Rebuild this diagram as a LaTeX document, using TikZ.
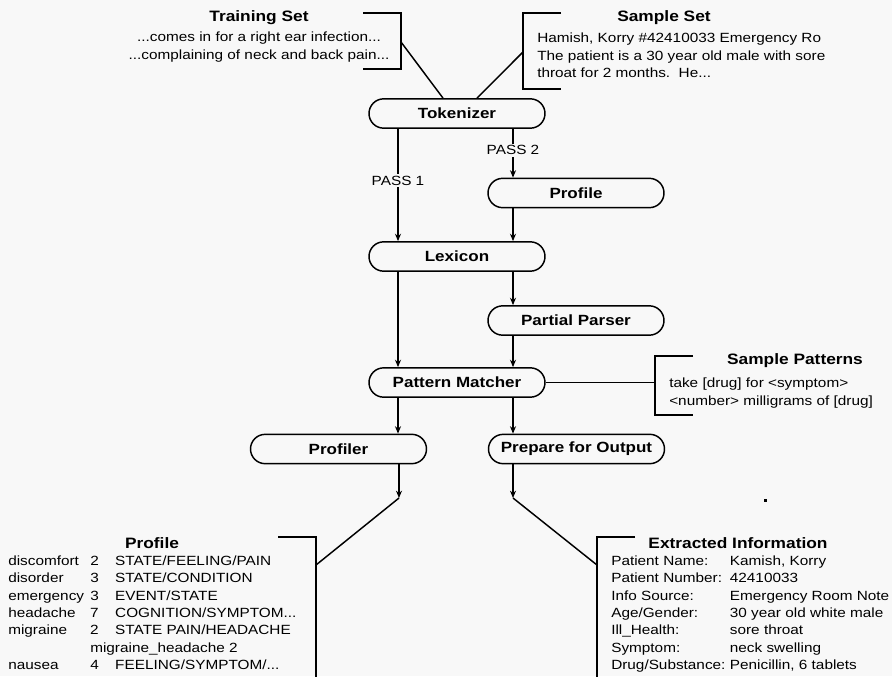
\documentclass[tikz,border=0pt]{standalone}
\usepackage{fontspec}
\setmainfont{Liberation Sans}[FakeStretch=1.15]
\usetikzlibrary{arrows.meta}

\definecolor{pagebg}{RGB}{248,248,248}

\tikzset{
  stage/.style={draw, line width=1.1pt, rounded corners=11pt, minimum width=132pt,
    minimum height=22pt, inner sep=0pt, font=\fontsize{11.1}{13}\selectfont\bfseries},
  flow/.style={line width=1.1pt, -{Stealth[length=5.5pt,width=4.5pt]}},
  brack/.style={line width=1.1pt},
  boxtitle/.style={inner sep=0pt, font=\fontsize{11.3}{13}\selectfont\bfseries},
  boxtext/.style={inner sep=0pt, align=left, font=\fontsize{10}{13.1}\selectfont},
  passlbl/.style={fill=pagebg, inner sep=1.5pt, font=\fontsize{10}{12}\selectfont}
}

\begin{document}
\begin{tikzpicture}[x=0.75pt,y=0.75pt,yscale=-1,xscale=1]
\fill[pagebg] (0,0) rectangle (892,676);
\useasboundingbox (0,0) rectangle (892,676);

%lanes for the two passes
\coordinate (laneL) at (398,0);
\coordinate (laneR) at (513,0);

%Shape: stages
\node[stage] (tok) at (457,113.5) {Tokenizer};
\node[stage] (prof) at (576,193) {Profile};
\node[stage] (lex) at (457,256.5) {Lexicon};
\node[stage] (parser) at (576,320.5) {Partial Parser};
\node[stage] (match) at (457,382.5) {Pattern Matcher};
\node[stage] (profiler) at (338.5,449) {Profiler};
\node[stage] (prep) at (576.5,449) {Prepare for Output};

%Shape: brackets
\draw[brack] (363,13) -- (401,13) -- (401,69) -- (363,69);
\coordinate (trainbr) at (401,42);
\draw[brack] (561,13) -- (523,13) -- (523,89) -- (561,89);
\coordinate (samplebr) at (523,52);
\draw[brack] (693,356) -- (655,356) -- (655,415) -- (693,415);
\coordinate (patbr) at (655,382.5);
\draw[brack] (278,537) -- (316,537) -- (316,680);
\coordinate (profbr) at (316,565);
\draw[brack] (635,537) -- (597,537) -- (597,680);
\coordinate (extbr) at (597,565);

%free ends below the last stages
\coordinate (profend) at (399,498);
\coordinate (prepend) at (513,498);

%Straight Lines
\draw[brack] (trainbr) -- ([xshift=-10.5pt]tok.north);
\draw[brack] (samplebr) -- ([xshift=15pt]tok.north);
\draw[flow] (tok.south -| laneL) -- node[passlbl, pos=0.46] {PASS 1} (lex.north -| laneL);
\draw[flow] (tok.south -| laneR) -- node[passlbl, pos=0.44] {PASS 2} (prof.north -| laneR);
\draw[flow] (prof.south -| laneR) -- (lex.north -| laneR);
\draw[flow] (lex.south -| laneL) -- (match.north -| laneL);
\draw[flow] (lex.south -| laneR) -- (parser.north -| laneR);
\draw[flow] (parser.south -| laneR) -- (match.north -| laneR);
\draw[brack] (match.east) -- (patbr);
\draw[flow] (match.south -| laneL) -- (profiler.north -| laneL);
\draw[flow] (match.south -| laneR) -- (prep.north -| laneR);
\draw[flow] (profiler.south -| profend) -- (profend);
\draw[flow] (prep.south -| prepend) -- (prepend);
\draw[brack] (profend) -- (profbr);
\draw[brack] (prepend) -- (extbr);

%speck
\fill (764,499) rectangle (767,501.5);

% Text Node
\node[boxtitle] (traintitle) at (259,18) {Training Set};
% Text Node
\node[boxtext, align=center] (traintext) at (259,47)
  {...comes in for a right ear infection...\\...complaining of neck and back pain...};
% Text Node
\node[boxtitle] (sampletitle) at (664,18) {Sample Set};
% Text Node
\node[boxtext, anchor=west] (sampletext) at (537,55.5)
  {Hamish, Korry \#42410033 Emergency Ro\\The patient is a 30 year old male with sore\\throat for 2 months.\ \ He...};
% Text Node
\node[boxtitle] (pattitle) at (795,361) {Sample Patterns};
% Text Node
\node[boxtext, anchor=west] (pattext) at (669,393)
  {take [drug] for <symptom>\\<number> milligrams of [drug]};
% Text Node
\node[boxtitle] (proftitle) at (152,543) {Profile};
% Text Node
\node[boxtext, anchor=west] (proftable) at (8,614) {%
  \begin{tabular}{@{}p{61.5pt}@{}p{18.75pt}@{}l@{}}
  discomfort & 2 & STATE/FEELING/PAIN\\
  disorder & 3 & STATE/CONDITION\\
  emergency & 3 & EVENT/STATE\\
  headache & 7 & COGNITION/SYMPTOM...\\
  migraine & 2 & STATE PAIN/HEADACHE\\
   & \multicolumn{2}{@{}l@{}}{migraine\_headache 2}\\
  nausea & 4 & FEELING/SYMPTOM/...
  \end{tabular}};
% Text Node
\node[boxtitle] (exttitle) at (738,543) {Extracted Information};
% Text Node
\node[boxtext, anchor=west] (exttable) at (611,614) {%
  \begin{tabular}{@{}p{89pt}@{}l@{}}
  Patient Name: & Kamish, Korry\\
  Patient Number: & 42410033\\
  Info Source: & Emergency Room Note\\
  Age/Gender: & 30 year old white male\\
  Ill\_Health: & sore throat\\
  Symptom: & neck swelling\\
  Drug/Substance: & Penicillin, 6 tablets
  \end{tabular}};

\end{tikzpicture}
\end{document}
